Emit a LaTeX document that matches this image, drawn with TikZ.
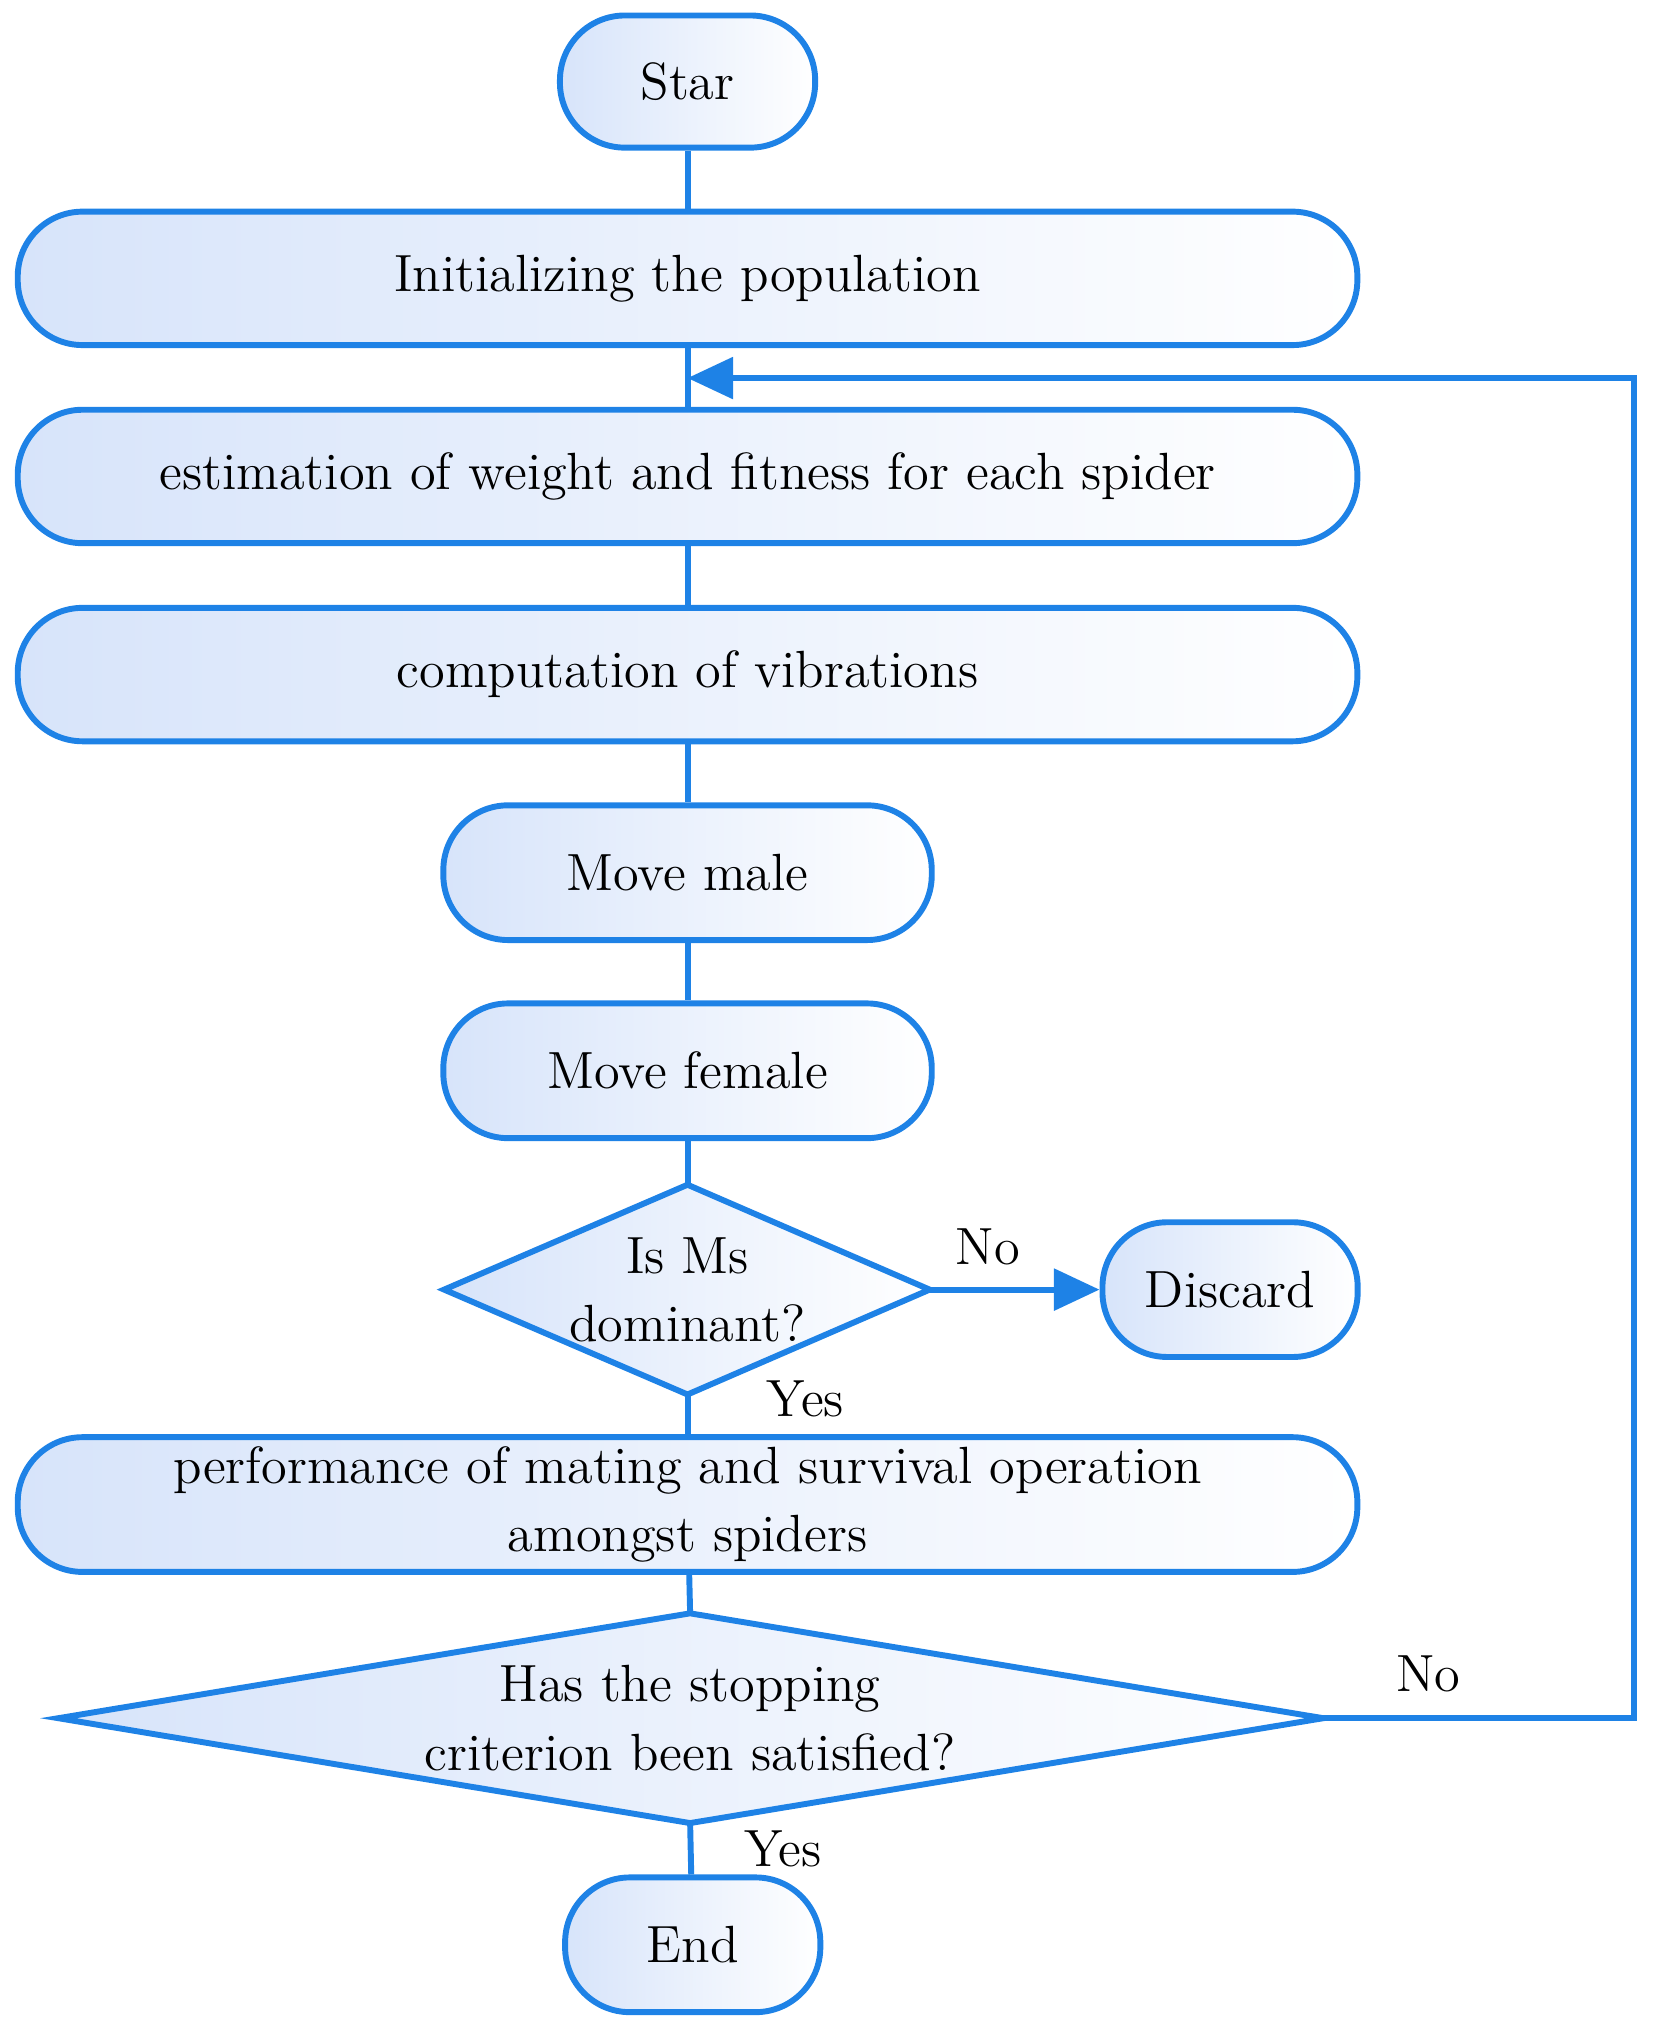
\documentclass[tikz,border=0pt]{standalone}
\usetikzlibrary{shapes.geometric,arrows.meta}
\definecolor{ln}{RGB}{30,130,230}
\definecolor{fl}{RGB}{215,228,250}
\begin{document}
\begin{tikzpicture}[x=0.01cm,y=-0.01cm,
  every node/.style={font=\fontsize{11.5}{15}\selectfont},
  box/.style={draw=ln,line width=1.3pt,rounded corners=0.5cm,left color=fl,right color=white,align=center,inner sep=0pt},
  dia/.style={draw=ln,line width=1.3pt,diamond,left color=fl,right color=white,align=center,inner sep=0pt},
  con/.style={draw=ln,line width=1.3pt},
  arr/.style={con,-{Triangle[length=10pt,width=9pt]}}]
\useasboundingbox (0,0) rectangle (1280,1574);
\node[box,minimum width=1.97cm,minimum height=1.02cm] (star) at (531,63) {Star};
\node[box,minimum width=10.34cm,minimum height=1.03cm] (init) at (531,215) {Initializing the population};
\node[box,minimum width=10.34cm,minimum height=1.03cm] (est) at (531,368) {estimation of weight and fitness for each spider};
\node[box,minimum width=10.34cm,minimum height=1.03cm] (comp) at (531,521) {computation of vibrations};
\node[box,minimum width=3.77cm,minimum height=1.04cm] (male) at (531,674) {Move male};
\node[box,minimum width=3.77cm,minimum height=1.04cm] (female) at (531,827) {Move female};
\path[dia] (343,996) -- (531,915) -- (718,996) -- (531,1077) -- cycle;
\node[align=center] (d1) at (531,996) {Is Ms\\dominant?};
\coordinate (d1t) at (531,915); \coordinate (d1b) at (531,1077); \coordinate (d1r) at (718,996);
\node[box,minimum width=1.97cm,minimum height=1.04cm] (disc) at (950,996) {Discard};
\node[box,minimum width=10.34cm,minimum height=1.04cm] (perf) at (531,1162) {performance of mating and survival operation\\amongst spiders};
\path[dia] (45,1327) -- (533,1246) -- (1022,1327) -- (533,1408) -- cycle;
\node[align=center] (d2) at (533,1327) {Has the stopping\\criterion been satisfied?};
\coordinate (d2t) at (533,1246); \coordinate (d2b) at (533,1408); \coordinate (d2r) at (1022,1327);
\node[box,minimum width=1.97cm,minimum height=1.04cm] (end) at (535,1502) {End};
\coordinate (c1) at (1262,1327); \coordinate (c2) at (1262,292); \coordinate (c3) at (531,292);
\draw[con] (star) -- (init);
\draw[con] (init) -- (est);
\draw[con] (est) -- (comp);
\draw[con] (comp) -- (male);
\draw[con] (male) -- (female);
\draw[con] (female) -- (d1t);
\draw[arr] (d1r) -- (disc);
\draw[con] (d1b) -- (perf);
\draw[con] (perf) -- (d2t);
\draw[con] (d2b) -- (end);
\draw[arr] (d2r) -- (c1) -- (c2) -- (c3);
\node (no1) at (763,963) {No};
\node (yes1) at (622,1080) {Yes};
\node (no2) at (1103,1293) {No};
\node (yes2) at (605,1428) {Yes};
\end{tikzpicture}
\end{document}
